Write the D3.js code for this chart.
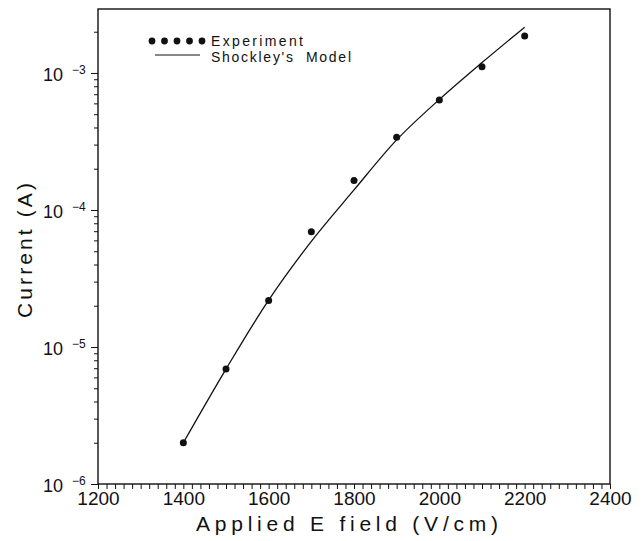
<!DOCTYPE html>
<html>
<head>
<meta charset="utf-8">
<script src="https://cdn.jsdelivr.net/npm/d3@7"></script>
<style>
  body { margin: 0; background: #fff; }
  svg { display: block; font-family: "Liberation Sans", Arial, sans-serif; }
</style>
</head>
<body>
<div id="chart"></div>
<script>
// applied field (V/cm)
const fields = [1400, 1500, 1600, 1700, 1800, 1900, 2000, 2100, 2200];
// measured current (A)
const experiment = [2.0e-6, 6.9e-6, 2.18e-5, 6.95e-5, 1.64e-4, 3.4e-4, 6.35e-4, 1.11e-3, 1.86e-3];
// Shockley's model current (A)
const model = [2.0e-6, 6.9e-6, 2.2e-5, 5.9e-5, 1.4e-4, 3.25e-4, 6.4e-4, 1.19e-3, 2.16e-3];
const xTicks = [1200, 1400, 1600, 1800, 2000, 2200, 2400];
const decades = [-6, -5, -4, -3];

const width = 644, height = 541;
const margin = {top: 9, right: 34, bottom: 57, left: 98};

const svg = d3.select("#chart")
    .append("svg")
    .attr("width", width)
    .attr("height", height);

const xScale = d3.scaleLinear()
    .domain([1200, 2400])
    .range([margin.left, width - margin.right]);

const yScale = d3.scaleLog()
    .domain([1e-6, 2.93e-3])
    .range([height - margin.bottom, margin.top]);

// x axis: minor ticks every 20, labels every 200
const xMinor = d3.range(1200, 2401, 20);
svg.append("g")
    .attr("transform", `translate(0,${height - margin.bottom})`)
    .call(d3.axisBottom(xScale)
        .tickValues(xMinor)
        .tickSize(5)
        .tickSizeOuter(0)
        .tickFormat(d => xTicks.includes(d) ? d : ""))
    .call(g => g.select(".domain").remove())
    .call(g => g.selectAll(".tick line").attr("stroke", "#111").attr("stroke-width", 1))
    .call(g => g.selectAll(".tick text")
        .attr("y", 8)
        .attr("dy", "0.71em")
        .attr("font-size", 19)
        .attr("font-family", "Liberation Sans, Arial, sans-serif")
        .attr("fill", "#111"));

// y axis: minor ticks 2..9 per decade
const yMinor = [];
decades.forEach(e => {
    d3.range(2, 10).forEach(m => {
        const v = m * Math.pow(10, e);
        if (v <= yScale.domain()[1]) yMinor.push(v);
    });
});
svg.append("g")
    .attr("transform", `translate(${margin.left},0)`)
    .call(d3.axisLeft(yScale).tickValues(yMinor).tickSize(4).tickSizeOuter(0).tickFormat(""))
    .call(g => g.select(".domain").remove())
    .call(g => g.selectAll(".tick line").attr("stroke", "#111"));

const yMajor = decades.map(e => Math.pow(10, e));
svg.append("g")
    .attr("transform", `translate(${margin.left},0)`)
    .call(d3.axisLeft(yScale).tickValues(yMajor).tickSize(7).tickSizeOuter(0).tickFormat(""))
    .call(g => g.select(".domain").remove())
    .call(g => g.selectAll(".tick line").attr("stroke", "#111"));

// decade labels 10^-n
const yLabels = svg.append("g");
decades.forEach(e => {
    const y = yScale(Math.pow(10, e));
    const t = yLabels.append("text")
        .attr("x", 43)
        .attr("y", y + 8)
        .attr("fill", "#111")
        .attr("font-size", 18);
    t.append("tspan").text("10");
    t.append("tspan")
        .attr("x", 72)
        .attr("dy", -7)
        .attr("font-size", 12)
        .text("\u2212" + Math.abs(e));
});

// frame
svg.append("rect")
    .attr("x", margin.left)
    .attr("y", margin.top)
    .attr("width", width - margin.left - margin.right)
    .attr("height", height - margin.top - margin.bottom)
    .attr("fill", "none")
    .attr("stroke", "#111")
    .attr("stroke-width", 1.4);

// model curve
const line = d3.line()
    .x((d, i) => xScale(fields[i]))
    .y(d => yScale(d))
    .curve(d3.curveCatmullRom.alpha(0.5));

svg.append("path")
    .datum(model)
    .attr("fill", "none")
    .attr("stroke", "#111")
    .attr("stroke-width", 1.3)
    .attr("d", line);

// experiment points
svg.selectAll("circle.pt")
    .data(experiment)
    .join("circle")
    .attr("class", "pt")
    .attr("cx", (d, i) => xScale(fields[i]))
    .attr("cy", d => yScale(d))
    .attr("r", 3.5)
    .attr("fill", "#111");

// legend
const legend = svg.append("g");
d3.range(5).forEach(i => {
    legend.append("circle")
        .attr("cx", 152 + i * 12.5)
        .attr("cy", 41)
        .attr("r", 3.4)
        .attr("fill", "#111");
});
legend.append("text")
    .attr("x", 211).attr("y", 46)
    .attr("font-size", 14).attr("fill", "#111")
    .attr("textLength", 92).attr("lengthAdjust", "spacing")
    .text("Experiment");
legend.append("line")
    .attr("x1", 155).attr("x2", 200)
    .attr("y1", 55).attr("y2", 55)
    .attr("stroke", "#111").attr("stroke-width", 1.2);
legend.append("text")
    .attr("x", 211).attr("y", 62)
    .attr("font-size", 14).attr("fill", "#111")
    .attr("textLength", 140).attr("lengthAdjust", "spacing")
    .style("white-space", "pre")
    .text("Shockley's  Model");

// axis titles
svg.append("text")
    .attr("x", 196).attr("y", 531)
    .attr("font-size", 21).attr("fill", "#111")
    .attr("textLength", 302).attr("lengthAdjust", "spacing")
    .text("Applied E field (V/cm)");

svg.append("text")
    .attr("transform", "translate(32,318) rotate(-90)")
    .attr("font-size", 21).attr("fill", "#111")
    .attr("textLength", 135).attr("lengthAdjust", "spacing")
    .text("Current (A)");
</script>
</body>
</html>
